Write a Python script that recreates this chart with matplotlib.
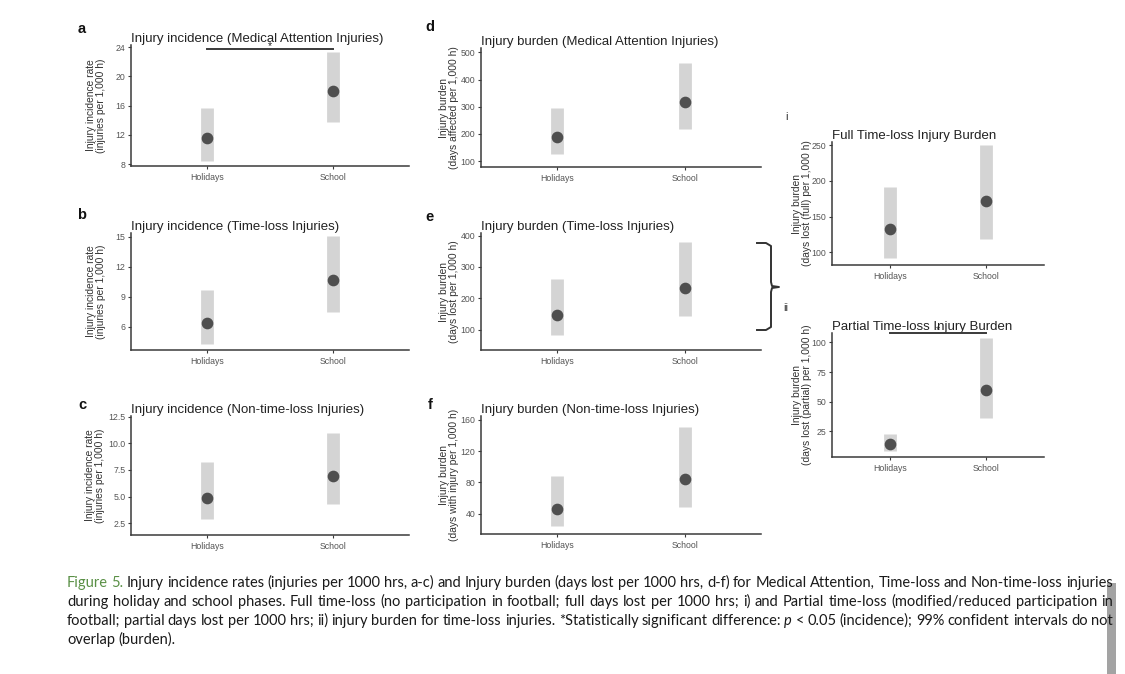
import matplotlib
matplotlib.use("Agg")
import matplotlib.pyplot as plt
from matplotlib.lines import Line2D

W, H = 1125, 674

categories = ["Holidays", "School"]

# point estimate, lower and upper interval for each panel
inc_med_est = [11.6, 18.0]
inc_med_lo = [8.4, 13.7]
inc_med_hi = [15.7, 23.3]

inc_tl_est = [6.4, 10.7]
inc_tl_lo = [4.3, 7.5]
inc_tl_hi = [9.7, 15.1]

inc_ntl_est = [4.85, 6.95]
inc_ntl_lo = [2.9, 4.3]
inc_ntl_hi = [8.2, 11.0]

bur_med_est = [189, 316]
bur_med_lo = [125, 217]
bur_med_hi = [296, 460]

bur_tl_est = [148, 233]
bur_tl_lo = [84, 145]
bur_tl_hi = [263, 378]

bur_ntl_est = [46, 84]
bur_ntl_lo = [24.5, 48]
bur_ntl_hi = [88, 151]

full_tl_est = [132, 172]
full_tl_lo = [91.5, 118]
full_tl_hi = [192, 250]

part_tl_est = [14.3, 60]
part_tl_lo = [8.3, 35.8]
part_tl_hi = [23, 103.7]

caption_lines = [
    "Figure 5. Injury incidence rates (injuries per 1000 hrs, a-c) and Injury burden (days lost per 1000 hrs, d-f) "
    "for Medical Attention, Time-loss and Non-time-loss injuries",
    "during holiday and school phases. Full time-loss (no participation in football; full days lost per "
    "1000 hrs; i) and Partial time-loss (modified/reduced participation in",
    "football; partial days lost per 1000 hrs; ii) injury burden for time-loss injuries. *Statistically "
    "significant difference: p < 0.05 (incidence); 99% confident intervals do not",
    "overlap (burden).",
]

CI_GREY = "#d4d4d4"
PT_GREY = "#4f4f4f"
AX_GREY = "#3a3a3a"
TXT_GREY = "#555555"

plt.rcParams["font.family"] = ["Liberation Sans", "DejaVu Sans"]

fig = plt.figure(figsize=(W / 100, H / 100), dpi=100)
fig.patch.set_facecolor("white")


def px_rect(l, t, r, b):
    return [l / W, 1 - b / H, (r - l) / W, (b - t) / H]


def fx(x):
    return x / W


def fy(y):
    return 1 - y / H


def panel(rect, est, lo, hi, yticks, ylim, title, ylabel, label_off, ticklabels=None, sig=None):
    ax = fig.add_axes(px_rect(*rect))
    x = [1, 2]
    ax.vlines(x, lo, hi, colors=CI_GREY, linewidth=9.2, capstyle="butt", zorder=1)
    ax.plot(x, est, "o", color=PT_GREY, markersize=7.4, zorder=3)
    ax.set_xlim(0.4, 2.6)
    ax.set_ylim(*ylim)
    ax.set_xticks(x)
    ax.set_xticklabels(categories)
    ax.set_yticks(yticks)
    if ticklabels:
        ax.set_yticklabels(ticklabels)
    for s in ["top", "right"]:
        ax.spines[s].set_visible(False)
    for s in ["left", "bottom"]:
        ax.spines[s].set_color(AX_GREY)
        ax.spines[s].set_linewidth(1.1)
    ax.tick_params(axis="both", length=2.5, width=0.8, color=AX_GREY,
                   labelsize=6.3, labelcolor=TXT_GREY)
    ax.tick_params(axis="y", pad=1.6)
    ax.tick_params(axis="x", pad=2.2)
    ax.set_title(title, loc="left", fontsize=9.5, color="#222222", pad=2.5)
    ax.text(-label_off / (rect[2] - rect[0]), 0.5, ylabel, transform=ax.transAxes,
            rotation=90, ha="center", va="center", fontsize=7.4, color="#333333",
            linespacing=1.1)
    if sig is not None:
        ax.plot([1, 2], [sig, sig], color=AX_GREY, linewidth=1.4, clip_on=False, zorder=4)
        ax.annotate("*", (1.5, sig), xytext=(0, 2), textcoords="offset points",
                    ha="center", va="center", fontsize=7.5, color="#222222",
                    annotation_clip=False)
    return ax


panel((131, 45, 409, 166), inc_med_est, inc_med_lo, inc_med_hi, [8, 12, 16, 20, 24],
      (7.73, 24.3), "Injury incidence (Medical Attention Injuries)",
      "Injury incidence rate\n(injuries per 1,000 h)", 35, sig=23.8)
panel((131, 233, 409, 350), inc_tl_est, inc_tl_lo, inc_tl_hi, [6, 9, 12, 15],
      (3.67, 15.4), "Injury incidence (Time-loss Injuries)",
      "Injury incidence rate\n(injuries per 1,000 h)", 35)
panel((131, 416, 409, 535), inc_ntl_est, inc_ntl_lo, inc_ntl_hi, [2.5, 5.0, 7.5, 10.0, 12.5],
      (1.4, 12.55), "Injury incidence (Non-time-loss Injuries)",
      "Injury incidence rate\n(injuries per 1,000 h)", 36,
      ticklabels=["2.5", "5.0", "7.5", "10.0", "12.5"])

panel((481, 48, 761, 167), bur_med_est, bur_med_lo, bur_med_hi, [100, 200, 300, 400, 500],
      (78, 516), "Injury burden (Medical Attention Injuries)",
      "Injury burden\n(days affected per 1,000 h)", 32)
panel((481, 233, 761, 350), bur_tl_est, bur_tl_lo, bur_tl_hi, [100, 200, 300, 400],
      (36, 408), "Injury burden (Time-loss Injuries)",
      "Injury burden\n(days lost per 1,000 h)", 32)
panel((481, 416, 761, 534), bur_ntl_est, bur_ntl_lo, bur_ntl_hi, [40, 80, 120, 160],
      (14, 165), "Injury burden (Non-time-loss Injuries)",
      "Injury burden\n(days with injury per 1,000 h)", 32)

panel((832, 142, 1044, 265), full_tl_est, full_tl_lo, full_tl_hi, [100, 150, 200, 250],
      (82, 254.6), "Full Time-loss Injury Burden",
      "Injury burden\n(days lost (full) per 1,000 h)", 30)
panel((832, 333, 1044, 457), part_tl_est, part_tl_lo, part_tl_hi, [25, 50, 75, 100],
      (3.2, 108), "Partial Time-loss Injury Burden",
      "Injury burden\n(days lost (partial) per 1,000 h)", 30, sig=108)

# panel letters
for lab, x, y in [("a", 82, 29), ("b", 82, 215), ("c", 82, 405),
                  ("d", 430, 27), ("e", 429, 217), ("f", 430, 405)]:
    fig.text(fx(x), fy(y), lab, ha="center", va="center", fontsize=10.5,
             fontweight="bold", color="#111111")
fig.text(fx(786), fy(117), "i", ha="center", va="center", fontsize=8, color="#333333")
fig.text(fx(786), fy(308), "ii", ha="center", va="center", fontsize=8, color="#333333")

# curly bracket linking panel e to panels i / ii
bx = [757, 766, 771, 771, 772, 779, 772, 771, 771, 766, 757]
by = [243, 243, 246, 282, 286, 287, 288, 292, 327, 330, 330]
fig.add_artist(Line2D([fx(v) for v in bx], [fy(v) for v in by], color="#333333",
                      linewidth=1.4, solid_joinstyle="round"))

# scrollbar strip on right edge
fig.add_artist(plt.Rectangle((fx(1107), 0), 9 / W, fy(583), color="#a3a3a3", linewidth=0))

# caption, justified between x=67 and x=1113
cap_font = dict(fontsize=10.5, family=["Lato", "DejaVu Sans"], color="#1a1a1a", va="baseline")
renderer = fig.canvas.get_renderer()
CAP_L, CAP_R = 67, 1113


def word_style(i_line, i_word, word):
    if i_line == 0 and i_word < 2:
        return {"color": "#5a9046"}
    if word == "p":
        return {"style": "italic"}
    return {}


for i_line, (line, base) in enumerate(zip(caption_lines, [587, 606, 625, 644])):
    words = line.split(" ")
    texts = []
    for i_word, w in enumerate(words):
        kw = dict(cap_font)
        kw.update(word_style(i_line, i_word, w))
        texts.append(fig.text(fx(CAP_L), fy(base), w, **kw))
    widths = [t.get_window_extent(renderer).width for t in texts]
    if i_line < len(caption_lines) - 1:
        gap = (CAP_R - CAP_L - sum(widths)) / (len(words) - 1)
    else:
        gap = fig.text(0, 0, "a a", **cap_font).get_window_extent(renderer).width
        probe = fig.text(0, 0, "aa", **cap_font)
        gap -= probe.get_window_extent(renderer).width
        fig.texts = fig.texts[:-2]
    x = CAP_L
    for t, w in zip(texts, widths):
        t.set_x(fx(x))
        x += w + gap

fig.savefig("out.png", dpi=100)
